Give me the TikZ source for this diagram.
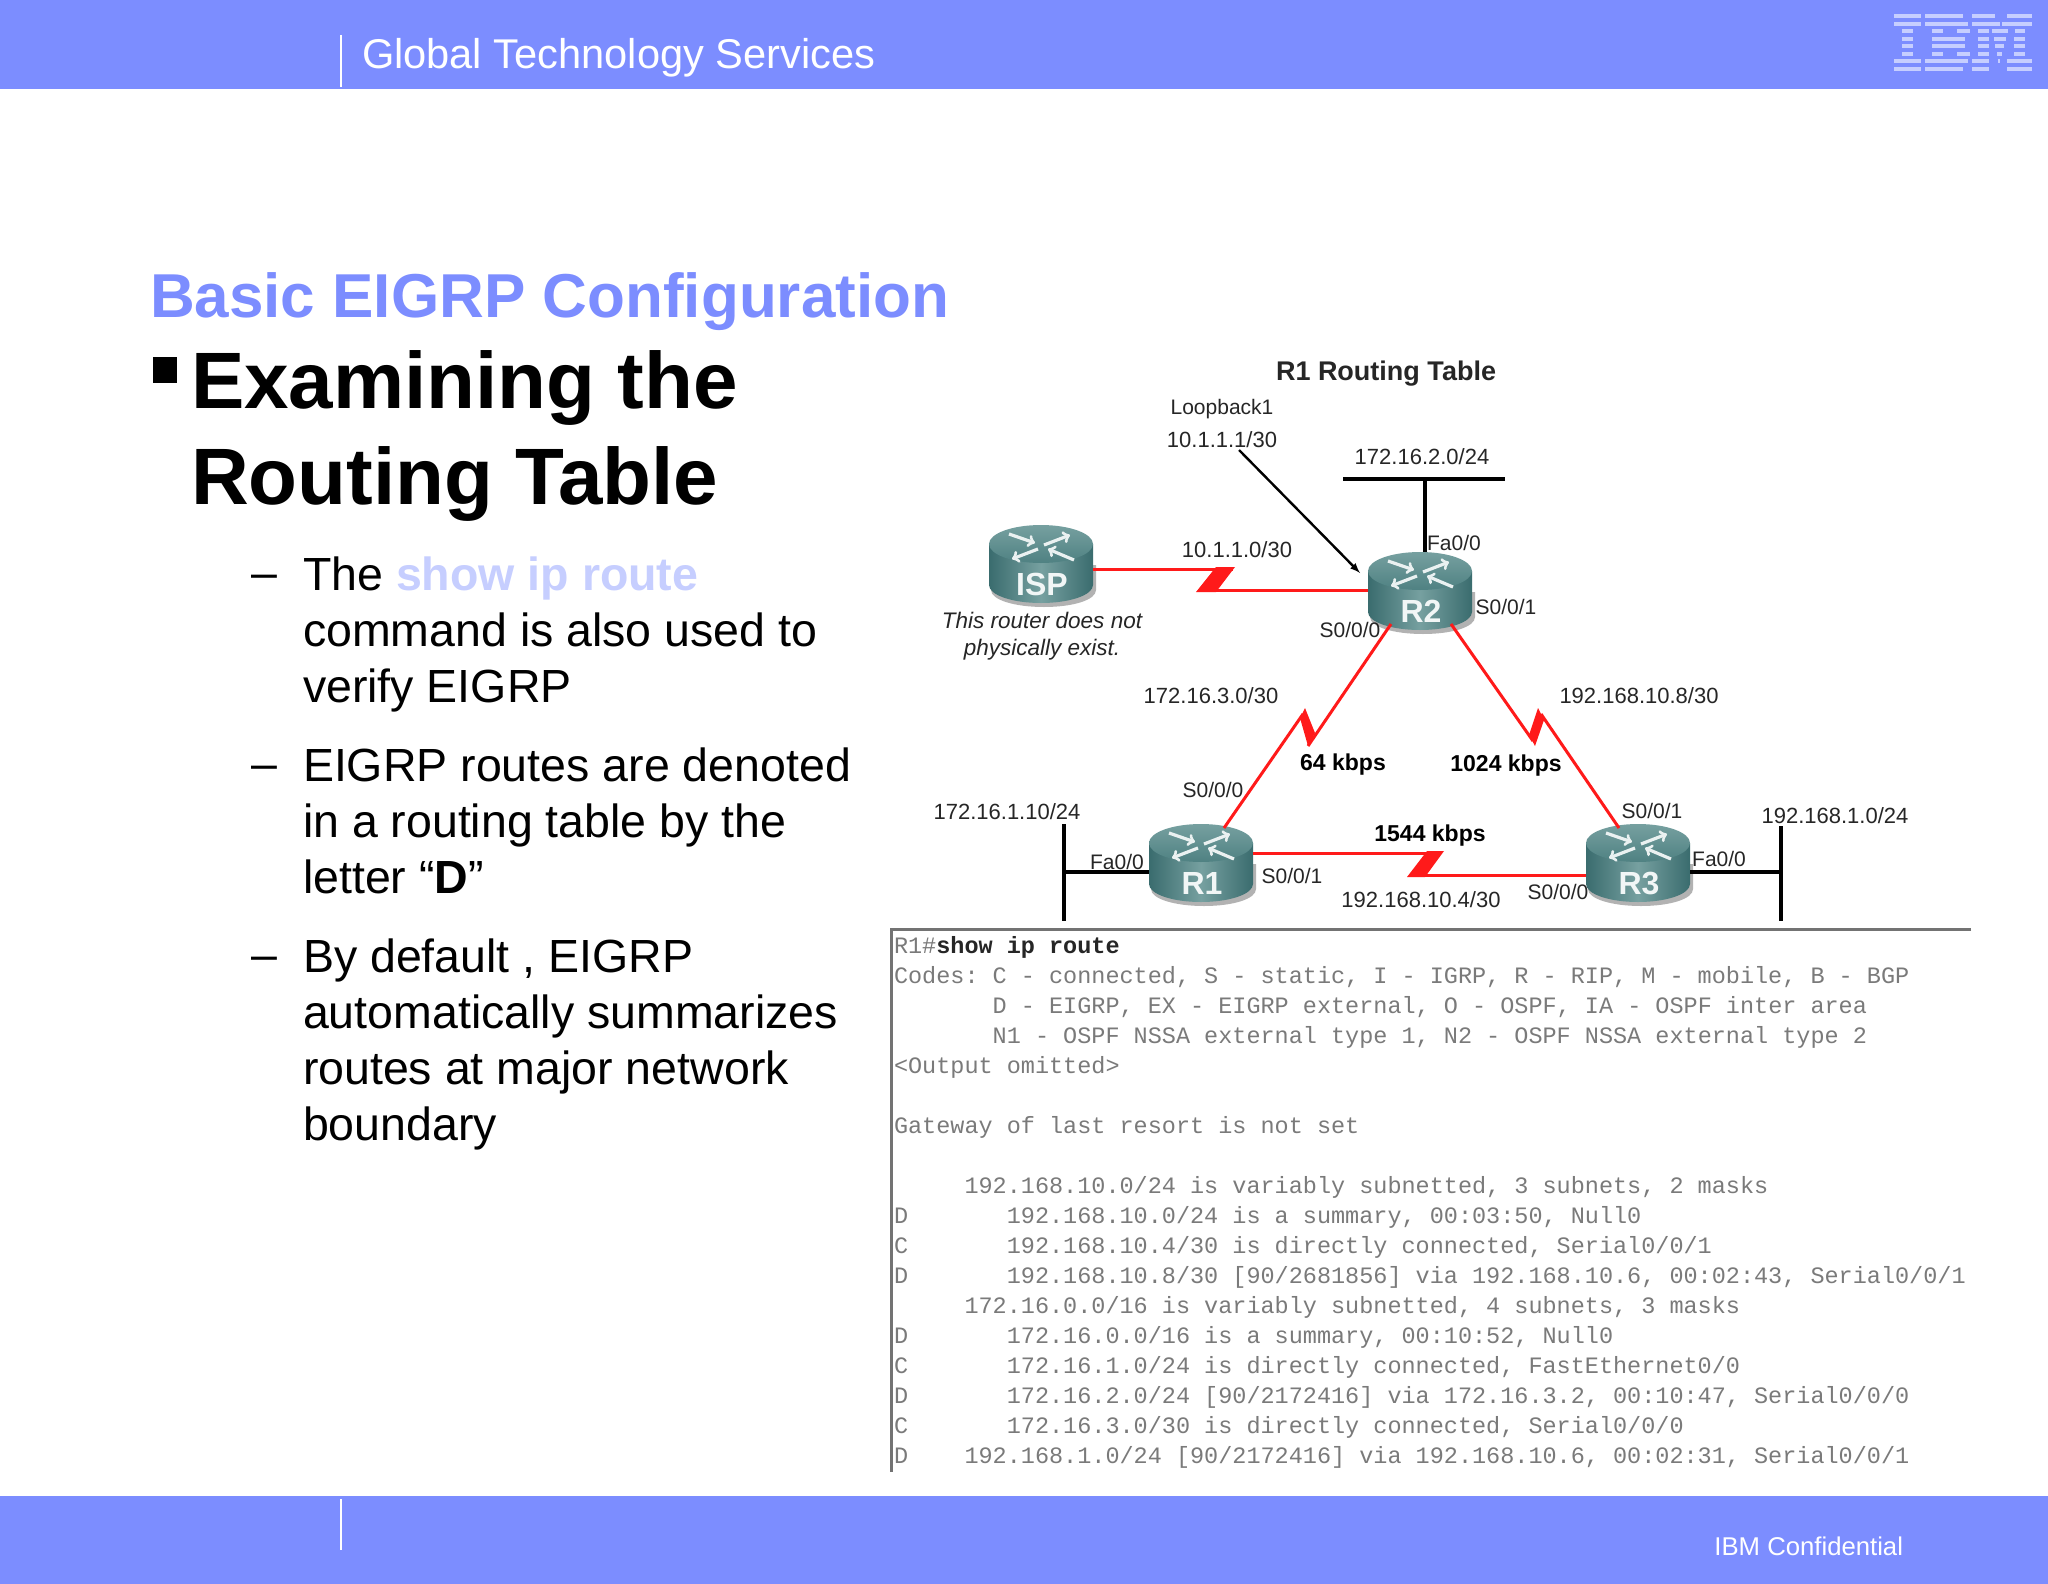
\documentclass[tikz,border=0pt]{standalone}
\usepackage{fontspec}
\setmainfont{Liberation Sans}
\setmonofont{Liberation Mono}
\usepackage{xcolor}
\usepackage{tikz}
\usetikzlibrary{arrows, positioning}

\definecolor{ibmblue}{HTML}{7C8DFF}
\definecolor{ibmpale}{HTML}{C6CEFF}
\definecolor{linkred}{HTML}{FF1A1A}
\definecolor{routerdark}{HTML}{3A6C6E}
\definecolor{routermid}{HTML}{76A0A0}
\definecolor{routertop}{HTML}{4F8182}
\definecolor{listgrey}{HTML}{7A7A7A}

\tikzset{
    band/.style={fill=ibmblue, draw=none},
    slim/.style={draw=white, line width=1.5pt},
    logobar/.style={fill=ibmpale, draw=none},
    plain/.style={inner sep=0pt, outer sep=0pt},
    slidehead/.style={plain, anchor=base west, text=ibmblue, font=\bfseries\fontsize{62}{72}\selectfont},
    bighead/.style={plain, anchor=north west, align=left, font=\bfseries\fontsize{80}{96}\selectfont},
    subtext/.style={plain, anchor=north west, align=left, font=\fontsize{46.5}{56}\selectfont},
    tag/.style={plain, text=black!85, font=\fontsize{22}{26}\selectfont},
    porttag/.style={plain, text=black!85, font=\fontsize{21}{24}\selectfont},
    speedtag/.style={plain, font=\bfseries\fontsize{23}{26}\selectfont},
    routerbox/.style={plain, minimum width=104pt, minimum height=80pt},
    seriallink/.style={draw=linkred, line width=3pt, line join=miter},
    lanlink/.style={draw=black, line width=3.5pt},
    lightning/.style={fill=linkred, draw=none},
    routerarrow/.style={draw=white!85!routermid, line width=3.2pt},
}

\newcommand{\routernode}[4]{
    \node[routerbox] (#1) at (#2,#3) {};
    \begin{scope}[shift={(#1.center)}]
        \fill[black!30] (-50,25) .. controls (-50,35) and (-26,42) .. (3,42) .. controls (32,42) and (55,35) .. (55,25) -- (55,0) -- (-50,0) -- cycle;
        \shade[left color=routerdark, right color=routerdark, middle color=routermid]
            (-52,-21) -- (-52,20) .. controls (-52,30) and (-29,38) .. (0,38) .. controls (29,38) and (52,30) .. (52,20) -- (52,-21) -- cycle;
        \shade[top color=routermid, bottom color=routertop] (0,-21) ellipse[x radius=52, y radius=19];
        \draw[routerarrow, -to] (-32,-31) -- (-6,-22);
        \draw[routerarrow, -to] (3,-20) -- (29,-30);
        \draw[routerarrow, -to] (-3,-16) -- (-29,-6);
        \draw[routerarrow, -to] (33,-5) -- (7,-16);
        \node[plain, text=white!90!routermid, font=\bfseries\fontsize{32}{32}\selectfont] (#1text) at (1,19) {#4};
    \end{scope}
}

\begin{document}
\begin{tikzpicture}[x=1pt, y=-1pt]
    \useasboundingbox (0,0) rectangle (2048,1584);
    \fill[white] (0,0) rectangle (2048,1584);

    \path[band] (0,0) rectangle (2048,89);
    \path[band] (0,1496) rectangle (2048,1584);
    \draw[slim] (341,35) -- (341,87);
    \draw[slim] (341,1499) -- (341,1550);
    \node[plain, anchor=base west, text=white, font=\fontsize{41.6}{48}\selectfont] (service) at (362,69) {Global Technology Services};
    \node[plain, anchor=base east, text=white, font=\fontsize{25.7}{30}\selectfont] (confidential) at (1903,1555) {IBM Confidential};

    \foreach \row/\xa/\xb in {1/1894/1921, 2/1894/1921, 3/1902/1913, 4/1902/1913, 5/1902/1913, 6/1902/1913, 7/1894/1921, 8/1894/1921,
        1/1925/1963, 2/1925/1968, 3/1932/1943, 3/1957/1970, 4/1932/1965, 5/1932/1965, 6/1932/1943, 6/1957/1970, 7/1925/1968, 8/1925/1963,
        1/1972/1995, 1/2007/2032, 2/1972/2000, 2/2002/2032, 3/1978/1989, 3/1992/2008, 3/2015/2025, 4/1978/1989, 4/1994/2006, 4/2014/2025,
        5/1978/1989, 5/1995/2004, 5/2014/2025, 6/1978/1989, 6/1997/2002, 6/2014/2025, 7/1972/1989, 7/1998/2000, 7/2007/2032, 8/1972/1989, 8/2007/2032}
        \path[logobar] (\xa,{14.2+7.55*(\row-1)}) rectangle (\xb,{18+7.55*(\row-1)});

    \node[slidehead] (title) at (150,317) {Basic EIGRP Configuration};
    \fill[black] (153,357) rectangle (177,383);
    \node[bighead] (topic) at (191,351) {Examining the\\Routing Table};

    \node[subtext] (first) at (303,557) {The {\bfseries\color{ibmpale}show ip route}\\command is also used to\\verify EIGRP};
    \node[subtext, below=35pt of first.south west, anchor=north west] (second) {EIGRP routes are denoted\\in a routing table by the\\letter “\textbf{D}”};
    \node[subtext, below=45pt of second.south west, anchor=north west] (third) {By default , EIGRP\\automatically summarizes\\routes at major network\\boundary};
    \node[subtext, left=26pt of first.north west, anchor=north east] (dasha) {\vphantom{T}–};
    \node[subtext, left=26pt of second.north west, anchor=north east] (dashb) {\vphantom{T}–};
    \node[subtext, left=26pt of third.north west, anchor=north east] (dashc) {\vphantom{T}–};

    \routernode{ISP}{1041}{565}{ISP}
    \routernode{R2}{1420}{592}{R2}
    \routernode{R1}{1201}{864}{R1}
    \routernode{R3}{1638}{864}{R3}

    \coordinate (ispzigtop) at (1233,569);
    \coordinate (ispziglow) at (1198,590);
    \draw[seriallink] (ISP.east |- ispzigtop) -- (ispzigtop);
    \draw[seriallink] (ispziglow) -- (R2.west |- ispziglow);
    \fill[lightning] (1216,567) -- (1235,567) -- (1216,592) -- (1196,592) -- cycle;

    \coordinate (bottomzigtop) at (1441,853);
    \coordinate (bottomziglow) at (1412,875);
    \draw[seriallink] (R1.east |- bottomzigtop) -- (bottomzigtop);
    \draw[seriallink] (bottomziglow) -- (R3.west |- bottomziglow);
    \fill[lightning] (1427,851) -- (1444,851) -- (1425,877) -- (1407,877) -- cycle;

    \coordinate (leftzigtop) at (1305,708);
    \coordinate (leftziglow) at (1308,746);
    \draw[seriallink] ([shift={(-29,32)}]R2.center) -- (leftziglow);
    \draw[seriallink] (1303,714) -- ([shift={(23,-36)}]R1.center);
    \fill[lightning] (leftzigtop) -- (1300,718) -- (leftziglow) -- (1315,733) -- cycle;

    \coordinate (rightzigtop) at (1538,708);
    \coordinate (rightziglow) at (1535,746);
    \draw[seriallink] ([shift={(31,32)}]R2.center) -- (1533,741);
    \draw[seriallink] (1541,714) -- ([shift={(-19,-36)}]R3.center);
    \fill[lightning] (rightzigtop) -- (1544,720) -- (rightziglow) -- (1529,735) -- cycle;

    \coordinate (lanrtwo) at (1425,479);
    \coordinate (lanrone) at (1064,872);
    \coordinate (lanrthree) at (1781,872);
    \draw[lanlink] (1343,479) -- (1505,479);
    \draw[lanlink] (lanrtwo) -- (lanrtwo |- R2.north);
    \draw[lanlink] (1064,824) -- (1064,921);
    \draw[lanlink] (lanrone) -- (R1.west |- lanrone);
    \draw[lanlink] (1781,826) -- (1781,921);
    \draw[lanlink] (R3.east |- lanrthree) -- (lanrthree);

    \node[plain, text=black!85, font=\fontsize{21}{26}\selectfont] (loopname) at (1222,409) {Loopback1};
    \node[tag] (loopaddr) at (1222,440) {10.1.1.1/30};
    \draw[black, line width=2.4pt, -latex] (1239,450) -- (1360,573);

    \node[plain, text=black!85, font=\bfseries\fontsize{27}{30}\selectfont] (tablename) at (1386,374) {R1 Routing Table};
    \node[tag] (nettwo) at (1422,457) {172.16.2.0/24};
    \node[tag] (netisp) at (1237,550) {10.1.1.0/30};
    \node[porttag] (faone) at (1454,543) {Fa0/0};
    \node[porttag] (sone) at (1506,607) {S0/0/1};
    \node[porttag] (szero) at (1350,630) {S0/0/0};
    \node[plain, align=center, text=black!85, font=\itshape\fontsize{22.5}{27}\selectfont] (ispnote) at (1042,636) {This router does not\\physically exist.};
    \node[tag] (netleft) at (1211,696) {172.16.3.0/30};
    \node[tag] (netright) at (1639,696) {192.168.10.8/30};
    \node[speedtag] (speedleft) at (1343,765) {64 kbps};
    \node[speedtag] (speedright) at (1506,766) {1024 kbps};
    \node[porttag] (rone) at (1213,790) {S0/0/0};
    \node[porttag] (rthree) at (1652,811) {S0/0/1};
    \node[tag] (lanone) at (1007,812) {172.16.1.10/24};
    \node[tag] (lanthree) at (1835,816) {192.168.1.0/24};
    \node[speedtag] (speedlow) at (1430,836) {1544 kbps};
    \node[porttag] (faleft) at (1117,862) {Fa0/0};
    \node[porttag] (sright) at (1292,876) {S0/0/1};
    \node[tag] (netlow) at (1421,900) {192.168.10.4/30};
    \node[porttag] (sleft) at (1558,892) {S0/0/0};
    \node[porttag] (faright) at (1719,859) {Fa0/0};

    \coordinate (listtop) at (891,929);
    \draw[black!55, line width=3pt] (1971,929) -- (listtop) -- (891,1472);
    \node[plain, anchor=north west, align=left, text=listgrey, font=\ttfamily\fontsize{23.5}{30.05}\selectfont] (listing) at (894,936) {R1\#\textcolor{black!85}{\bfseries show ip route}\\
Codes: C - connected, S - static, I - IGRP, R - RIP, M - mobile, B - BGP\\
~~~~~~~D - EIGRP, EX - EIGRP external, O - OSPF, IA - OSPF inter area\\
~~~~~~~N1 - OSPF NSSA external type 1, N2 - OSPF NSSA external type 2\\
<Output omitted>\\
~\\
Gateway of last resort is not set\\
~\\
~~~~~192.168.10.0/24 is variably subnetted, 3 subnets, 2 masks\\
D~~~~~~~192.168.10.0/24 is a summary, 00:03:50, Null0\\
C~~~~~~~192.168.10.4/30 is directly connected, Serial0/0/1\\
D~~~~~~~192.168.10.8/30 [90/2681856] via 192.168.10.6, 00:02:43, Serial0/0/1\\
~~~~~172.16.0.0/16 is variably subnetted, 4 subnets, 3 masks\\
D~~~~~~~172.16.0.0/16 is a summary, 00:10:52, Null0\\
C~~~~~~~172.16.1.0/24 is directly connected, FastEthernet0/0\\
D~~~~~~~172.16.2.0/24 [90/2172416] via 172.16.3.2, 00:10:47, Serial0/0/0\\
C~~~~~~~172.16.3.0/30 is directly connected, Serial0/0/0\\
D~~~~192.168.1.0/24 [90/2172416] via 192.168.10.6, 00:02:31, Serial0/0/1};
\end{tikzpicture}
\end{document}
